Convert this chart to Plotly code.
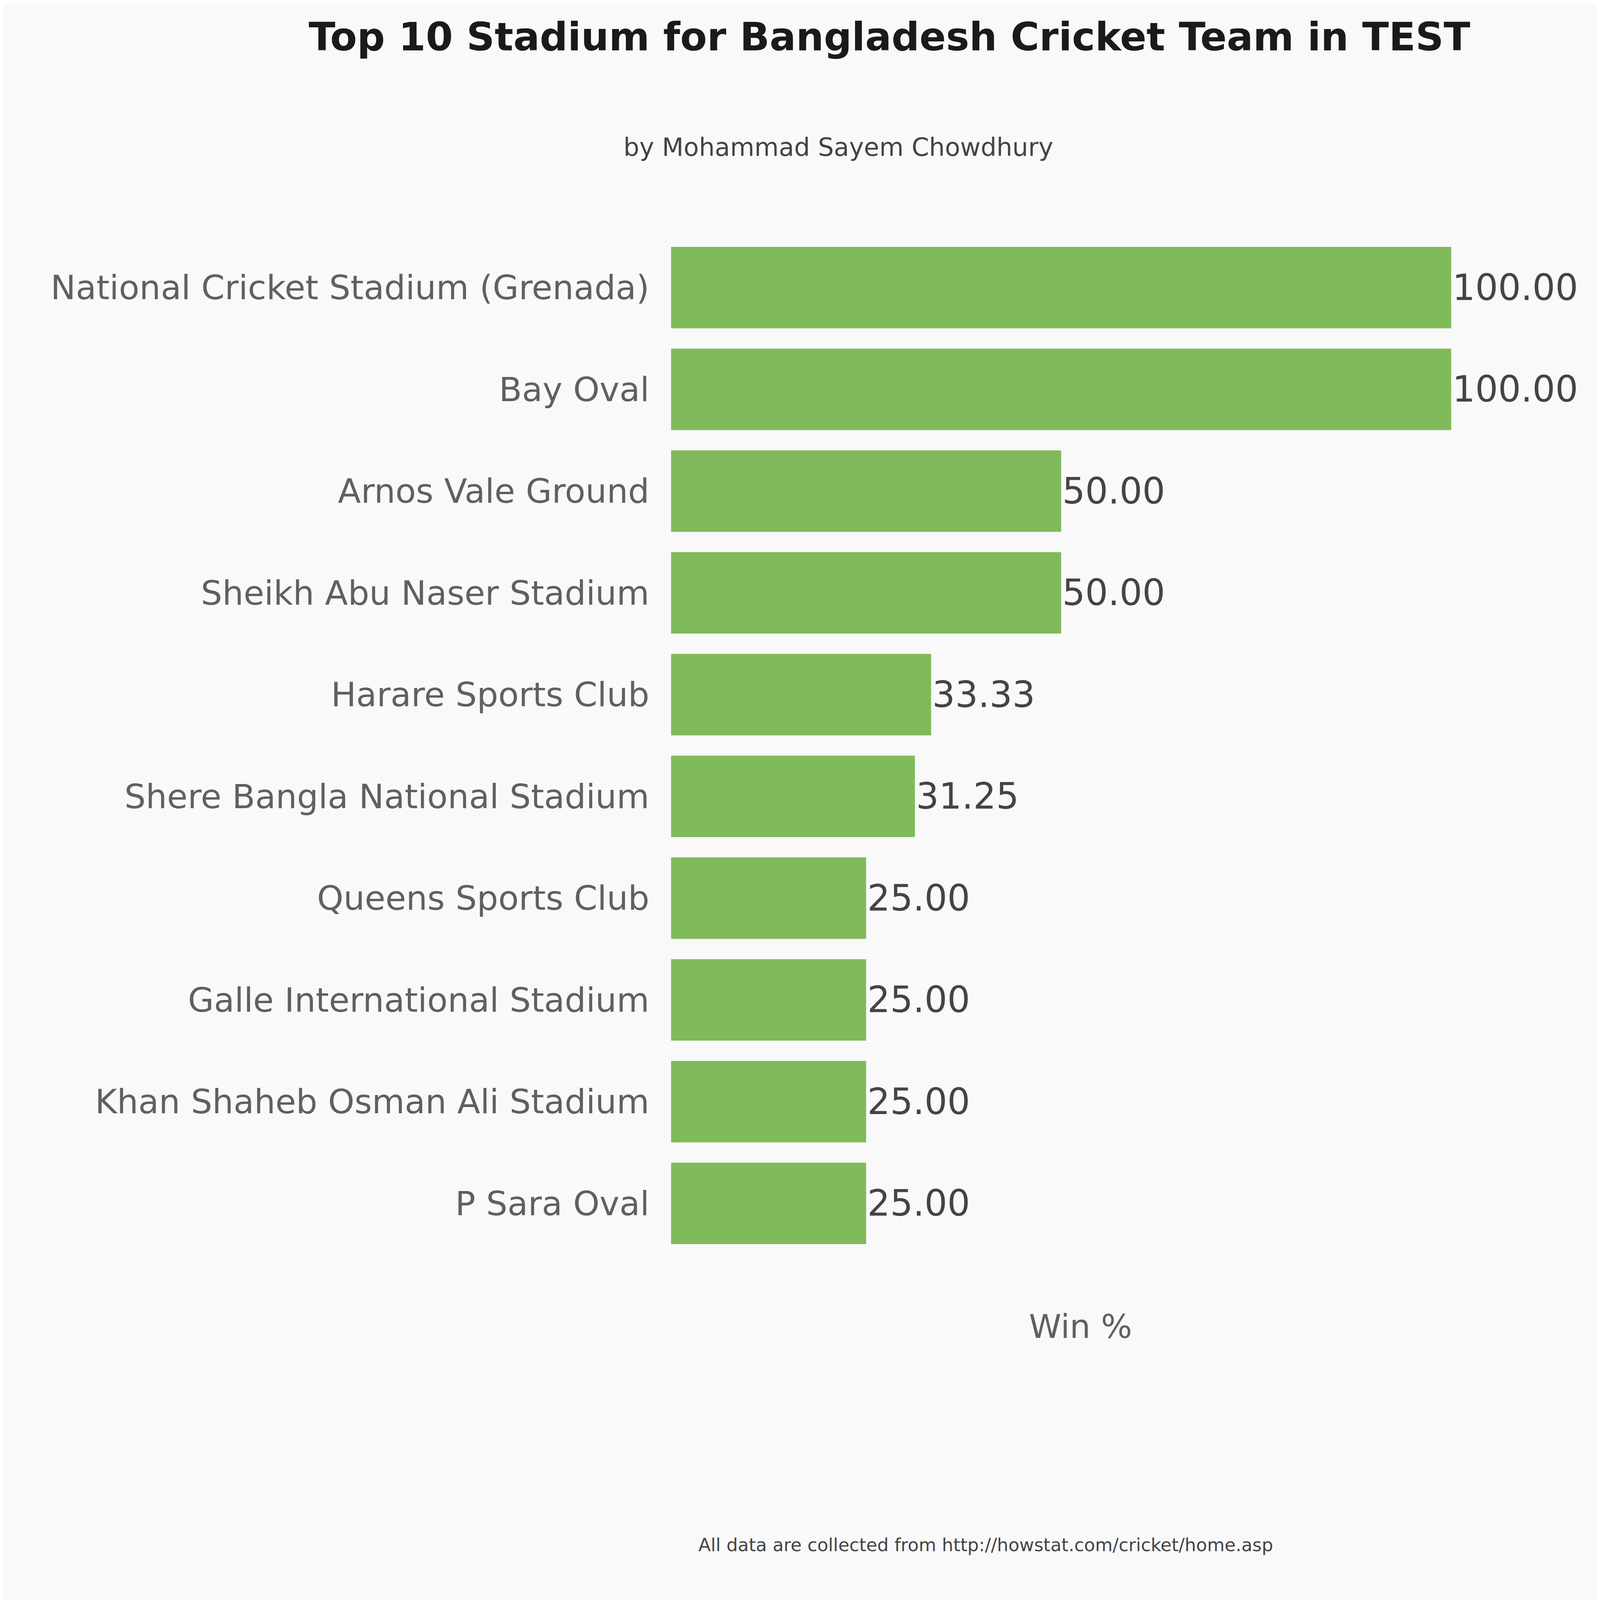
import plotly.graph_objects as go

stadiums = [
    'National Cricket Stadium (Grenada)', 'Bay Oval', 'Arnos Vale Ground',
    'Sheikh Abu Naser Stadium', 'Harare Sports Club', 'Shere Bangla National Stadium',
    'Queens Sports Club', 'Galle International Stadium', 'Khan Shaheb Osman Ali Stadium',
    'P Sara Oval'
]
win_pct = [100.00, 100.00, 50.00, 50.00, 33.33, 31.25, 25.00, 25.00, 25.00, 25.00]

fig = go.Figure(go.Bar(
    x=win_pct, y=stadiums, orientation='h',
    marker=dict(color='#80BA5A', line=dict(width=0)),
    text=[f'{v:.2f}' for v in win_pct], textposition='outside',
    textfont=dict(size=92, color='#444444'),
    cliponaxis=False,
))

fig.update_layout(
    autosize=True,
    paper_bgcolor='#F9F9F9', plot_bgcolor='#F9F9F9',
    font=dict(family='DejaVu Sans'),
    margin=dict(l=1710, r=389, t=598, b=893),
    bargap=0.2, showlegend=False,
    title=dict(text='<b>Top 10 Stadium for Bangladesh Cricket Team in TEST</b>',
               xref='container', x=0.191, xanchor='left', y=0.979, yanchor='middle',
               font=dict(size=100, color='#1a1a1a')),
    xaxis=dict(range=[0, 100], visible=False, showgrid=False),
    yaxis=dict(autorange='reversed', showgrid=False, ticks='', ticklen=0,
               tickfont=dict(size=86, color='#606060'), ticksuffix='  '),
)

fig.add_annotation(text='by Mohammad Sayem Chowdhury', xref='paper', yref='paper',
                   x=-0.062, y=1.088, xanchor='left', yanchor='middle', showarrow=False,
                   font=dict(size=64, color='#444444'))
fig.add_annotation(text='Win %', xref='paper', yref='paper', x=0.5246, y=-0.071,
                   xanchor='center', yanchor='middle', showarrow=False,
                   font=dict(size=84, color='#606060'))
fig.add_annotation(text='All data are collected from http://howstat.com/cricket/home.asp',
                   xref='paper', yref='paper', x=0.034, y=-0.2855, xanchor='left',
                   yanchor='middle', showarrow=False, font=dict(size=46, color='#444444'))

fig.write_html('out.html', default_width='100vw', default_height='100vh',
               config={'responsive': True})
